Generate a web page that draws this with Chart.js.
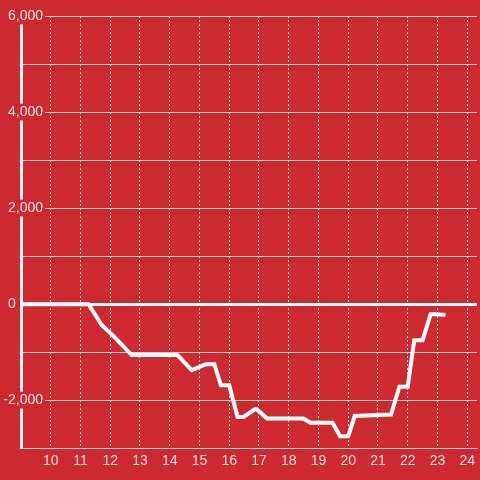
<!DOCTYPE html>
<html>
<head>
<meta charset="utf-8">
<script src="https://cdn.jsdelivr.net/npm/chart.js@4.4.0/dist/chart.umd.min.js"></script>
<style>
  html, body { margin: 0; padding: 0; background: #cc2a30; }
  canvas { display: block; }
</style>
</head>
<body>
<canvas id="myChart" width="480" height="480"></canvas>
<script>
// hours of the day and running value
var times = [9, 11.27, 11.72, 12.12, 12.72, 14.26, 14.74, 15.22, 15.5, 15.72, 16.0, 16.28, 16.48, 16.86, 16.93,
             17.27, 18.49, 18.73, 19.47, 19.73, 20.0, 20.22, 21.44, 21.72, 22.0, 22.22, 22.5, 22.77, 23.0, 23.27];
var values = [0, 0, -440, -670, -1060, -1060, -1375, -1250, -1250, -1690, -1690, -2350, -2350, -2190, -2190,
              -2380, -2380, -2470, -2470, -2750, -2750, -2330, -2300, -1720, -1720, -750, -750, -210, -210, -225];
var xMin = 9, xMax = 24.33;
var yMin = -3000, yMax = 6000;

var red = '#cc2a30';
var labelColor = 'rgba(255,255,255,0.85)';
var tickFont = { family: 'Liberation Sans', size: 14 };

var points = times.map(function (t, i) { return {x: t, y: values[i]}; });

// widest y label decides where the right-aligned mirrored labels end
ctx0 = document.createElement('canvas').getContext('2d');
ctx0.font = '14px "Liberation Sans"';
var widest = ctx0.measureText('-2,000').width;

var ctx = document.getElementById('myChart').getContext('2d');
var myChart = new Chart(ctx, {
  type: 'line',
  data: {
    datasets: [{
      data: points,
      borderColor: '#ffffff',
      borderWidth: 4,
      pointRadius: 0,
      tension: 0,
      fill: false
    }]
  },
  options: {
    responsive: false,
    animation: false,
    layout: { padding: { top: 16, right: 0, bottom: 5, left: 0 } },
    plugins: {
      legend: { display: false },
      tooltip: { enabled: false }
    },
    scales: {
      x: {
        type: 'linear',
        min: xMin,
        max: xMax,
        grid: { color: 'rgba(255,255,255,0.85)', lineWidth: 1, drawTicks: false },
        border: { color: '#d0d0d0', width: 1, dash: [2, 2] },
        ticks: {
          stepSize: 1,
          includeBounds: false,
          padding: 5,
          color: labelColor,
          font: tickFont,
          callback: function (v) { return v === xMin ? '' : v; }
        }
      },
      y: {
        min: yMin,
        max: yMax,
        afterFit: function (s) { s.width = 21; },
        grid: {
          drawTicks: false,
          color: function (c) { return c.tick && c.tick.value === 0 ? '#ffffff' : '#d0d0d0'; },
          lineWidth: function (c) { return c.tick && c.tick.value === 0 ? 3 : 1; }
        },
        border: { color: '#f4f4f4', width: 3 },
        ticks: {
          stepSize: 1000,
          mirror: true,
          crossAlign: 'far',
          padding: 22 - widest,
          color: labelColor,
          font: tickFont,
          showLabelBackdrop: function (c) {
            var v = c.tick.value;
            return v !== 0 && v % 2000 === 0;
          },
          backdropColor: red,
          backdropPadding: { x: 2, y: 0 },
          callback: function (v) {
            if (v === 0) return '0       ';
            if (v % 2000 !== 0) return '';
            return v.toLocaleString('en-US');
          }
        }
      }
    }
  }
});
</script>
</body>
</html>
